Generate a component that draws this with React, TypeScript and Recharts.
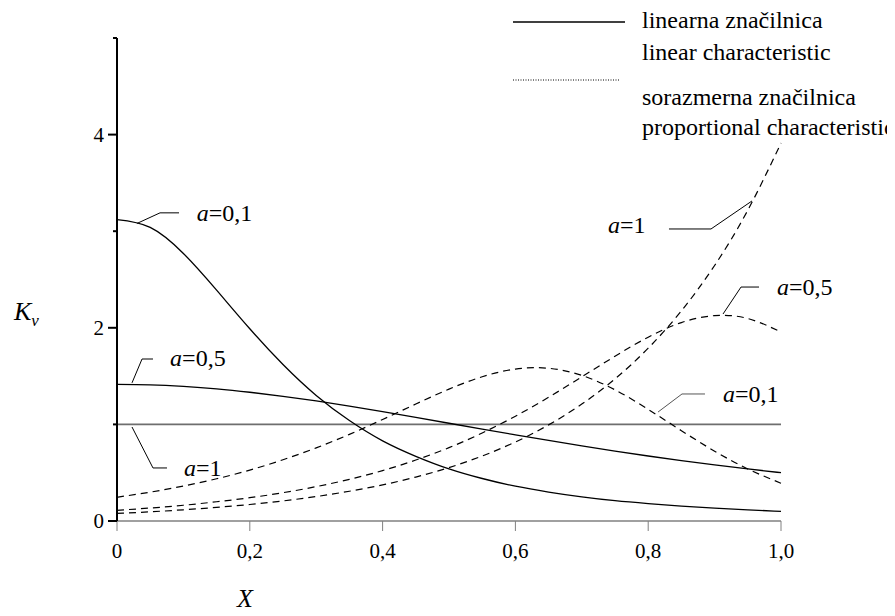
import React from "react";
import { LineChart, Line, XAxis, YAxis, ReferenceLine, ReferenceDot, Legend, Label } from "recharts";

const X_VALUES = [0, 0.05, 0.1, 0.15, 0.2, 0.25, 0.3, 0.35, 0.4, 0.45, 0.5, 0.55, 0.6, 0.65, 0.7, 0.75, 0.8, 0.85, 0.9, 0.95, 1.0];
const LINEAR_A01 = [3.12, 3.04, 2.77, 2.39, 1.99, 1.62, 1.3, 1.04, 0.83, 0.67, 0.54, 0.44, 0.36, 0.3, 0.25, 0.21, 0.18, 0.154, 0.133, 0.115, 0.1];
const LINEAR_A05 = [1.414, 1.409, 1.393, 1.368, 1.333, 1.291, 1.243, 1.189, 1.132, 1.073, 1.012, 0.951, 0.892, 0.834, 0.778, 0.724, 0.673, 0.626, 0.581, 0.539, 0.5];
const LINEAR_A1 = [1, 1, 1, 1, 1, 1, 1, 1, 1, 1, 1, 1, 1, 1, 1, 1, 1, 1, 1, 1, 1];
const PROP_A01 = [0.246, 0.299, 0.362, 0.437, 0.527, 0.634, 0.757, 0.897, 1.051, 1.211, 1.365, 1.493, 1.573, 1.581, 1.507, 1.358, 1.156, 0.935, 0.723, 0.539, 0.391];
const PROP_A05 = [0.111, 0.134, 0.163, 0.199, 0.241, 0.293, 0.356, 0.431, 0.522, 0.631, 0.759, 0.911, 1.085, 1.281, 1.492, 1.706, 1.903, 2.054, 2.126, 2.096, 1.956];
const PROP_A1 = [0.078, 0.095, 0.116, 0.141, 0.171, 0.208, 0.253, 0.308, 0.374, 0.455, 0.553, 0.673, 0.818, 0.995, 1.21, 1.471, 1.789, 2.175, 2.645, 3.217, 3.912];

const X_TICKS = [0, 0.2, 0.4, 0.6, 0.8, 1.0];
const X_TICK_LABELS = ["0", "0,2", "0,4", "0,6", "0,8", "1,0"];
const Y_TICKS = [0, 1, 2, 3, 4, 5];
const Y_TICK_LABELS: Record<number, string> = { 0: "0", 2: "2", 4: "4" };

// annotation leaders (data coords) and labels
const ANNOTATIONS = [
  { text: "=0,1", pts: [[0.03, 3.08], [0.0648, 3.19], [0.0934, 3.19]], tx: 0.12, ty: 3.19, color: "#000" },
  { text: "=0,5", pts: [[0.0226, 1.43], [0.0377, 1.677], [0.0542, 1.677]], tx: 0.08, ty: 1.69, color: "#000" },
  { text: "=1", pts: [[0.0226, 0.973], [0.0542, 0.549], [0.0753, 0.549]], tx: 0.101, ty: 0.549, color: "#000" },
  { text: "=1", pts: [[0.8313, 3.023], [0.8946, 3.023], [0.9563, 3.313]], tx: 0.7395, ty: 3.064, color: "#000" },
  { text: "=0,5", pts: [[0.9127, 2.143], [0.9398, 2.422], [0.9669, 2.422]], tx: 0.994, ty: 2.422, color: "#000" },
  { text: "=0,1", pts: [[0.8148, 1.128], [0.8509, 1.315], [0.8855, 1.315]], tx: 0.9127, ty: 1.315, color: "#555" },
];

const data = X_VALUES.map((x, i) => ({
  x,
  linA01: LINEAR_A01[i],
  linA05: LINEAR_A05[i],
  linA1: LINEAR_A1[i],
  propA01: PROP_A01[i],
  propA05: PROP_A05[i],
  propA1: PROP_A1[i],
}));

const FONT = "'Liberation Serif', 'Times New Roman', serif";

const YTick = (props: any) => {
  const { x, y, payload } = props;
  const v = payload.value;
  const label = Y_TICK_LABELS[v];
  const major = label !== undefined;
  return (
    <g>
      <line x1={x - (major ? 9 : 4)} x2={x} y1={y} y2={y} stroke="#000" strokeWidth={2} />
      {major && (
        <text x={x - 13} y={y} textAnchor="end" dominantBaseline="central" fontFamily={FONT} fontSize={21} fill="#000">
          {label}
        </text>
      )}
    </g>
  );
};

const LegendContent = () => (
  <svg width={887} height={140} style={{ position: "absolute", left: 0, top: 0, overflow: "visible" }}>
    <line x1={505} x2={617} y1={14} y2={14} stroke="#000" strokeWidth={1.5} />
    <text x={634} y={20} fontFamily={FONT} fontSize={24} fill="#000">linearna značilnica</text>
    <text x={634} y={52} fontFamily={FONT} fontSize={24} fill="#000">linear characteristic</text>
    <line x1={505} x2={612} y1={72} y2={72} stroke="#000" strokeWidth={1} strokeDasharray="1 1.5" />
    <text x={634} y={97} fontFamily={FONT} fontSize={24} fill="#000">sorazmerna značilnica</text>
    <text x={634} y={127} fontFamily={FONT} fontSize={24} fill="#000">proportional characteristic</text>
  </svg>
);

const annLabel = (text: string) => (props: any) => {
  const vb = props.viewBox || {};
  const cx = (vb.x ?? 0) + (vb.width ?? 0) / 2;
  const cy = (vb.y ?? 0) + (vb.height ?? 0) / 2;
  return (
    <text x={cx} y={cy} dominantBaseline="central" fontFamily={FONT} fontSize={24} fill="#000">
      <tspan fontStyle="italic">a</tspan>
      <tspan>{text}</tspan>
    </text>
  );
};

export default function App() {
  return (
    <div style={{ position: "relative", width: 887, height: 608 }}>
      <LineChart
        width={887}
        height={608}
        data={data}
        margin={{ top: 30, right: 114, bottom: 65, left: 0 }}
      >
        <XAxis
          dataKey="x"
          type="number"
          domain={[0, 1]}
          ticks={X_TICKS}
          tickFormatter={(v: number) => X_TICK_LABELS[X_TICKS.indexOf(v)] ?? ""}
          stroke="#808080"
          tickSize={10}
          tickMargin={12}
          height={30}
          tick={{ fontFamily: FONT, fontSize: 21, fill: "#000" }}
          axisLine={{ stroke: "#808080", strokeWidth: 1.5 }}
          tickLine={{ stroke: "#808080" }}
        >
          <Label
            content={() => (
              <text x={237} y={599} textAnchor="middle" fontFamily={FONT} fontStyle="italic" fontSize={26} fill="#000">
                X
              </text>
            )}
          />
        </XAxis>
        <YAxis
          type="number"
          domain={[0, 5]}
          ticks={Y_TICKS}
          width={109}
          tickSize={0}
          tickMargin={0}
          tickLine={false}
          tick={<YTick />}
          axisLine={{ stroke: "#000", strokeWidth: 2 }}
          interval={0}
        >
          <Label
            content={() => (
              <text x={6} y={312} fontFamily={FONT} fill="#000" fontStyle="italic">
                <tspan fontSize={26}>K</tspan>
                <tspan fontSize={17} dy={6}>v</tspan>
              </text>
            )}
          />
        </YAxis>
        <Legend content={<LegendContent />} wrapperStyle={{ position: "absolute", left: 0, top: 0, width: 887, height: 0 }} />
        <Line dataKey="linA1" type="natural" stroke="#6e6e6e" strokeWidth={1.6} dot={false} isAnimationActive={false} />
        <Line dataKey="linA01" type="natural" stroke="#000" strokeWidth={1.3} dot={false} isAnimationActive={false} />
        <Line dataKey="linA05" type="natural" stroke="#000" strokeWidth={1.3} dot={false} isAnimationActive={false} />
        <Line dataKey="propA01" type="natural" stroke="#000" strokeWidth={1.2} strokeDasharray="7 5" dot={false} isAnimationActive={false} />
        <Line dataKey="propA05" type="natural" stroke="#000" strokeWidth={1.2} strokeDasharray="7 5" dot={false} isAnimationActive={false} />
        <Line dataKey="propA1" type="natural" stroke="#000" strokeWidth={1.2} strokeDasharray="7 5" dot={false} isAnimationActive={false} />
        {ANNOTATIONS.map((a, i) =>
          a.pts.slice(1).map((p, j) => (
            <ReferenceLine
              key={`l${i}-${j}`}
              segment={[
                { x: a.pts[j][0], y: a.pts[j][1] },
                { x: p[0], y: p[1] },
              ]}
              stroke={a.color}
              strokeWidth={1}
            />
          ))
        )}
        {ANNOTATIONS.map((a, i) => (
          <ReferenceDot key={`t${i}`} x={a.tx} y={a.ty} r={1} fill="none" stroke="none" label={{ content: annLabel(a.text) }} />
        ))}
      </LineChart>
    </div>
  );
}
